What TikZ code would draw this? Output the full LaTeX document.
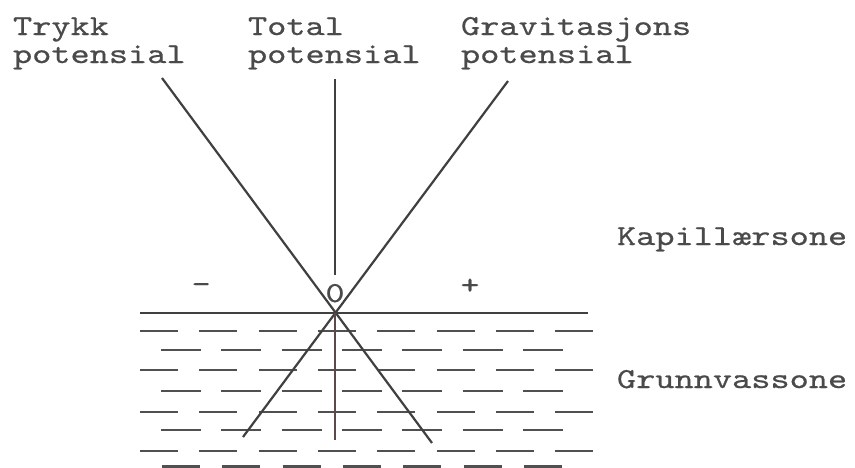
\documentclass[tikz,border=0pt]{standalone}
\usepackage{fontspec}
\usepackage{graphicx}
\newfontfamily\twfont{lmmono10-regular.otf}[FakeBold=0.5]
\definecolor{ink}{HTML}{404040}
\definecolor{txt}{HTML}{4A4A4A}
\definecolor{dashc}{HTML}{505050}
\definecolor{vline}{HTML}{5E4848}
\newcommand{\twr}[1]{\scalebox{1.26}[1]{\fontsize{29}{28}\selectfont\twfont #1}}
\tikzset{
  lbl/.style={inner sep=0pt, outer sep=0pt, anchor=base west, text=txt},
  mainline/.style={draw=ink, line width=2.2pt},
  wdash/.style={draw=dashc, line width=1.9pt},
}
\begin{document}
\begin{tikzpicture}[x=1pt,y=-1pt]
\useasboundingbox[fill=white] (0,0) rectangle (855,467);
% labels
\node[lbl] (trykk) at (13,35) {\twr{\begin{tabular}[t]{@{}l@{}}Trykk\\potensial\end{tabular}}};
\node[lbl] (total) at (248,35) {\twr{\begin{tabular}[t]{@{}l@{}}Total\\potensial\end{tabular}}};
\node[lbl] (grav) at (461,35) {\twr{\begin{tabular}[t]{@{}l@{}}Gravitasjons\\potensial\end{tabular}}};
\node[lbl] (kap) at (617,245) {\twr{Kapill\ae rsone}};
\node[lbl] (grunn) at (617,388) {\twr{Grunnvassone}};
\node[lbl, anchor=base] (zero) at (335,302) {\twr{0}};
\node[lbl, anchor=base] (minus) at (201,293) {\twr{-}};
\node[lbl, anchor=base] (plus) at (470,294) {\twr{+}};
% coordinates
\coordinate (apex) at (335,313);
\coordinate (ptop) at (162,78); \coordinate (pbot) at (432,443);
\coordinate (gtop) at (508,81); \coordinate (gbot) at (243,437);
\coordinate (ttop) at (335,79); \coordinate (tmid) at (335,275); \coordinate (tbot) at (335,440);
\coordinate (wl) at (140,313); \coordinate (wr) at (588,313);
% water dashes
\foreach \y in {331,370,412,451} {\foreach \i in {0,...,7} {\draw[wdash] ({140+59.3*\i},\y) -- ++(38,0);}}
\foreach \y in {350,391,430} {\foreach \i in {0,...,6} {\draw[wdash] ({161+60.3*\i},\y) -- ++(40,0);}}
\foreach \i in {0,...,6} {\draw[wdash, line width=5pt] ({162+60.3*\i},467) -- ++(38,0);}
% main lines
\draw[mainline] (wl) -- (wr);
\draw[mainline] (ptop) -- (pbot);
\draw[mainline] (gtop) -- (gbot);
\draw[mainline, line width=1.8pt] (ttop) -- (tmid);
\draw[mainline, draw=vline, line width=1.8pt] (apex) -- (tbot);
\end{tikzpicture}
\end{document}
